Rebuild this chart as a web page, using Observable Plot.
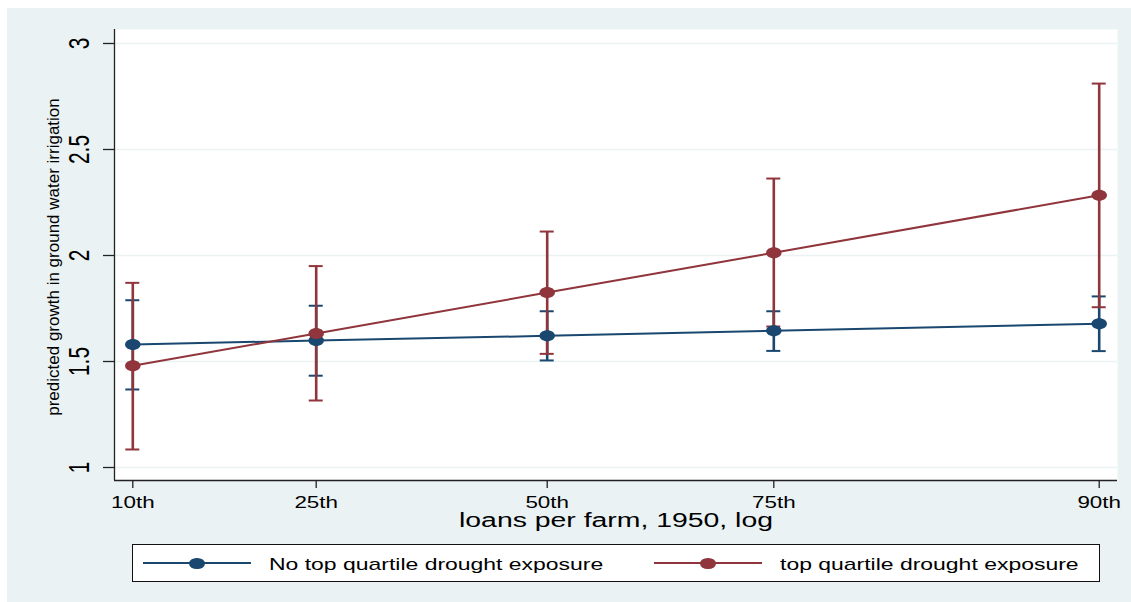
<!DOCTYPE html>
<html>
<head>
<meta charset="utf-8">
<script src="https://cdn.jsdelivr.net/npm/d3@7"></script>
<script src="https://cdn.jsdelivr.net/npm/@observablehq/plot@0.6"></script>
<style>
  body { margin: 0; background: #fff; }
  #wrap { position: relative; width: 1131px; height: 602px; overflow: hidden;
          font-family: "Liberation Sans", Arial, Helvetica, sans-serif; }
  #bg { position: absolute; left: 7px; top: 8px; right: 0; bottom: 0; background: #EAF2F3; }
  #chart { position: absolute; left: 0; top: 0; }
  #legend { position: absolute; left: 132px; top: 544px; width: 968px; height: 38px;
            box-sizing: border-box; border: 1px solid #111; background: #fff; }
  .item-line { position: absolute; top: 17px; height: 2px; width: 108px; }
  .item-dot { position: absolute; width: 15.5px; height: 11px; border-radius: 50%; top: 12.5px; }
  .item-text { position: absolute; top: 10.5px; font-size: 17px; line-height: 17px; color: #000;
               white-space: nowrap; transform: scaleX(1.35); transform-origin: left center; }
</style>
</head>
<body>
<div id="wrap">
  <div id="bg"></div>
  <div id="chart"></div>
  <div id="legend"></div>
</div>
<script>
// ---------------- data ----------------
const percentileLabels = ["10th", "25th", "50th", "75th", "90th"];
// position of each percentile along the (log) loans-per-farm axis
const xPosition = [0.183, 2.017, 4.327, 6.593, 9.847];

const seriesNames = ["No top quartile drought exposure", "top quartile drought exposure"];
const seriesColors = ["#1A476F", "#90353B"];

const noTopEstimate = [1.580, 1.599, 1.621, 1.645, 1.678];
const noTopLower    = [1.368, 1.433, 1.505, 1.550, 1.549];
const noTopUpper    = [1.789, 1.763, 1.737, 1.737, 1.807];

const topEstimate = [1.480, 1.632, 1.825, 2.013, 2.284];
const topLower    = [1.085, 1.316, 1.536, 1.665, 1.756];
const topUpper    = [1.871, 1.950, 2.113, 2.363, 2.811];

const yTicks = [1, 1.5, 2, 2.5, 3];
const yTickLabels = ["1", "1.5", "2", "2.5", "3"];

const xTitle = "loans per farm, 1950, log";
const yTitle = "predicted growth in ground water irrigation";

// ---------------- build rows ----------------
const seriesEst = [noTopEstimate, topEstimate];
const seriesLo = [noTopLower, topLower];
const seriesHi = [noTopUpper, topUpper];
const rowsBySeries = seriesNames.map((s, si) =>
  percentileLabels.map((p, i) => ({
    series: s, label: p, x: xPosition[i],
    est: seriesEst[si][i], lo: seriesLo[si][i], hi: seriesHi[si][i]
  }))
);

const xDomain = [0, 10.03];
const yDomain = [0.9387, 3.066];

// ellipse marker (the reference markers are wider than tall)
const ellipse = {
  draw(ctx, size) {
    const r = Math.sqrt(size / Math.PI), rx = r * 1.41, ry = r;
    const kx = rx * 0.5523, ky = ry * 0.5523;
    ctx.moveTo(rx, 0);
    ctx.bezierCurveTo(rx, ky, kx, ry, 0, ry);
    ctx.bezierCurveTo(-kx, ry, -rx, ky, -rx, 0);
    ctx.bezierCurveTo(-rx, -ky, -kx, -ry, 0, -ry);
    ctx.bezierCurveTo(kx, -ry, rx, -ky, rx, 0);
    ctx.closePath();
  }
};

const marks = [
  Plot.frame({fill: "#fff", stroke: null}),
  Plot.ruleY(yTicks, {stroke: "#EAF2F3", strokeWidth: 1.6})
];
// confidence intervals
rowsBySeries.forEach((rows, si) => {
  marks.push(Plot.ruleX(rows, {x: "x", y1: "lo", y2: "hi", stroke: seriesColors[si], strokeWidth: 2.6}));
  marks.push(Plot.ruleY(rows, {y: "hi", x1: "x", x2: "x", insetLeft: -7, insetRight: -7, stroke: seriesColors[si], strokeWidth: 2}));
  marks.push(Plot.ruleY(rows, {y: "lo", x1: "x", x2: "x", insetLeft: -7, insetRight: -7, stroke: seriesColors[si], strokeWidth: 2}));
});
// connected estimates
rowsBySeries.forEach((rows, si) => {
  marks.push(Plot.line(rows, {x: "x", y: "est", stroke: seriesColors[si], strokeWidth: 2}));
  marks.push(Plot.dot(rows, {x: "x", y: "est", fill: seriesColors[si], r: 5.5, symbol: ellipse}));
});
// axes
marks.push(
  Plot.ruleX([xDomain[0]], {stroke: "#222", strokeWidth: 1.3}),
  Plot.ruleY([yDomain[0]], {stroke: "#222", strokeWidth: 1.3}),
  Plot.axisY({ticks: yTicks, tickSize: 11, tickFormat: () => "", label: null, strokeWidth: 1.3, stroke: "#222"}),
  Plot.axisX({ticks: xPosition, tickSize: 8, tickFormat: () => "", label: null, strokeWidth: 1.3, stroke: "#222"}),
  Plot.text(yTicks, {y: d => d, text: (d, i) => yTickLabels[i], frameAnchor: "left", dx: -34.5,
                     rotate: -90, textAnchor: "middle", lineAnchor: "middle",
                     fontSize: 29, fill: "#000"}),
  Plot.text(rowsBySeries[0], {x: "x", text: "label", frameAnchor: "bottom", dy: 22,
                              textAnchor: "middle", lineAnchor: "middle",
                              fontSize: 16, fill: "#000"}),
  Plot.text([yTitle], {frameAnchor: "left", dx: -60.5, dy: 2, rotate: -90, fontSize: 17,
                       textAnchor: "middle", lineAnchor: "middle", fill: "#000"}),
  Plot.text([xTitle], {frameAnchor: "bottom", dy: 40, fontSize: 20,
                       textAnchor: "middle", lineAnchor: "middle", fill: "#000"})
);

const svg = Plot.plot({
  width: 1131, height: 540,
  marginLeft: 114, marginRight: 14, marginTop: 29, marginBottom: 60,
  x: {domain: xDomain},
  y: {domain: yDomain},
  style: {background: "transparent", fontFamily: "'Liberation Sans', Arial, Helvetica, sans-serif",
          overflow: "visible", color: "#000"},
  marks
});
document.getElementById("chart").appendChild(svg);

// stretch / squash text along its reading direction to match the reference's aspect
svg.querySelectorAll("text").forEach(t => {
  const s = t.textContent;
  let sx = null;
  if (yTickLabels.includes(s)) sx = 0.72;
  else if (percentileLabels.includes(s)) sx = 1.4;
  else if (s === xTitle) sx = 1.42;
  if (sx !== null) {
    const tr = t.getAttribute("transform") || "";
    t.setAttribute("transform", `${tr} scale(${sx},1)`);
  }
});

// legend
const legend = d3.select("#legend");
const itemLeft = [10, 521];
seriesNames.forEach((name, i) => {
  const left = itemLeft[i];
  legend.append("div").attr("class", "item-line")
    .style("left", left + "px").style("background", seriesColors[i]);
  legend.append("div").attr("class", "item-dot")
    .style("left", (left + 54 - 7.75) + "px").style("background", seriesColors[i]);
  legend.append("div").attr("class", "item-text")
    .style("left", (left + 126) + "px").text(name);
});
</script>
</body>
</html>
